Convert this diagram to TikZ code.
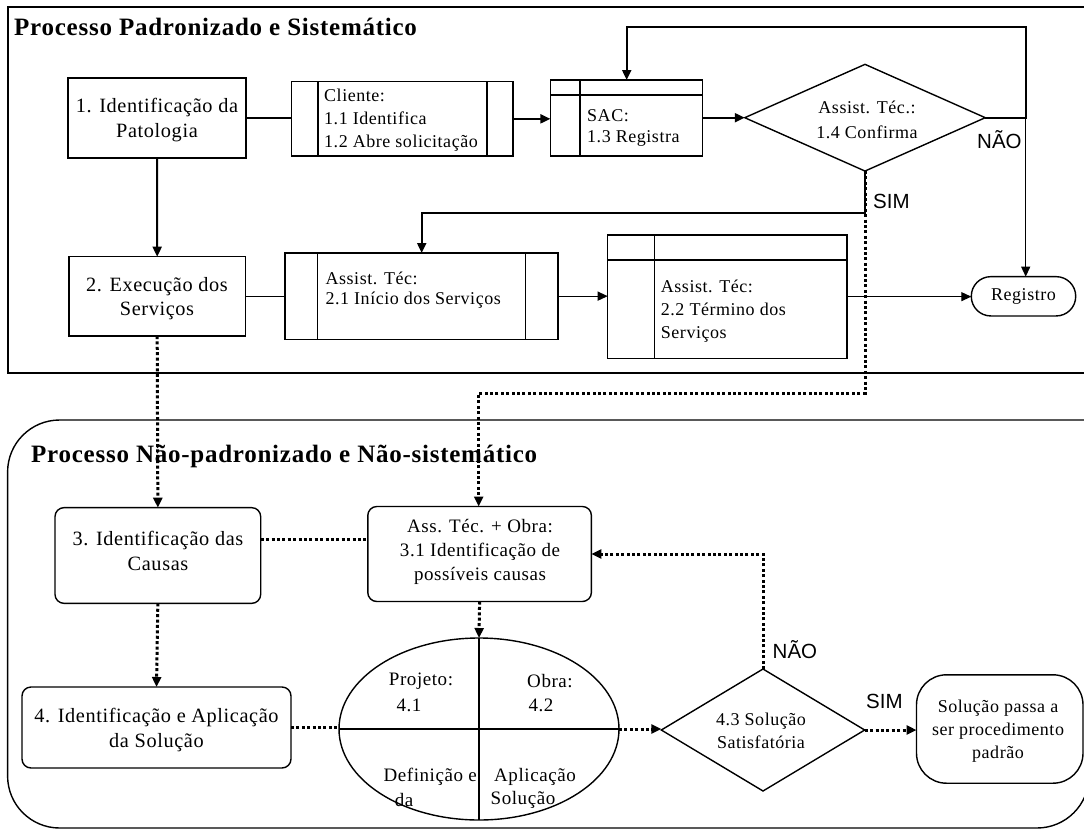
\documentclass[tikz,border=0pt]{standalone}
\usepackage{fontspec}
\setmainfont{Liberation Serif}[LetterSpace=3]
\newfontfamily\labfont{Liberation Sans}
\usetikzlibrary{shapes.geometric,arrows.meta,calc}
\begin{document}
\begin{tikzpicture}[x=1pt,y=-1pt,
 box/.style={draw, line width=1.4pt, inner sep=0pt, outer sep=0pt},
 rbox/.style={box, rounded corners=9pt},
 tb/.style={font=\fontsize{20.3}{24.5}\selectfont, align=center, inner sep=0pt},
 ts/.style={font=\fontsize{18}{23}\selectfont, inner sep=0pt},
 tm/.style={font=\fontsize{19}{24}\selectfont, inner sep=0pt},
 lab/.style={font=\labfont\fontsize{20.5}{24}\selectfont, inner sep=0pt, anchor=base west},
 ttl/.style={font=\bfseries\fontsize{25}{28}\selectfont, inner sep=0pt, anchor=base west},
 conn/.style={line width=1.3pt},
 cth/.style={line width=2pt},
 arr/.style={-{Triangle[length=10pt,width=9pt]}},
 dots/.style={line width=3pt, dash pattern=on 3pt off 2.4pt},
]
\fill[white] (0,0) rectangle (1084,830);
\useasboundingbox (0,0) rectangle (1084,830);
% containers
\draw[line width=1.4pt] (1095,7) -- (8,7) -- (8,373) -- (1095,373);
\draw[line width=1.4pt, rounded corners=52pt] (1095,420) -- (1089,420) -- (1089,828) -- (7.6,828) -- (7.6,420) -- (1095,420);
\node[ttl] (t1) at (14,35) {Processo Padronizado e Sistemático};
\node[ttl] (t2) at (31,462) {Processo Não-padronizado e Não-sistemático};
% top row
\node[box, minimum width=178pt, minimum height=80pt] (b1) at (157,118) {};
\node[tb] (tb1) at (157,120) {1. Identificação da\\Patologia};
\node[box, minimum width=221.3pt, minimum height=74.3pt] (cl) at (402.35,118.85) {};
\draw[conn] ($(cl.north west)+(26.3,0)$) -- ($(cl.south west)+(26.3,0)$);
\draw[conn] ($(cl.north east)+(-26,0)$) -- ($(cl.south east)+(-26,0)$);
\node[ts, anchor=west, align=left] (tcl) at (324,120) {Cliente:\\1.1 Identifica\\1.2 Abre solicitação};
\node[box, minimum width=152pt, minimum height=76pt] (sac) at (626.4,118) {};
\draw[conn] ($(sac.north west)+(0,15)$) -- ($(sac.north east)+(0,15)$);
\draw[conn] ($(sac.north west)+(29.6,0)$) -- ($(sac.south west)+(29.6,0)$);
\node[ts, anchor=west, align=left] (tsac) at (587,128) {SAC:\\[-1.5pt]1.3 Registra};
\node[box, diamond, minimum width=240.5pt, minimum height=106.7pt] (d1) at (865,117.7) {};
\node[ts, align=center] (td1) at (867,119.5) {Assist. Téc.:\\[2pt]1.4 Confirma};
\node[box, rounded corners=19.5pt, minimum width=104.4pt, minimum height=39.3pt, font=\fontsize{18}{20}\selectfont] (reg) at (1023.5,296.3) {Registro};
% second row
\node[box, minimum width=176.6pt, minimum height=79.3pt] (b2) at (157.2,296.35) {};
\node[tb] (tb2) at (157,298.5) {2. Execução dos\\Serviços};
\node[box, minimum width=273.2pt, minimum height=86.3pt] (s21) at (421.4,296.15) {};
\draw[conn] ($(s21.north west)+(32.7,0)$) -- ($(s21.south west)+(32.7,0)$);
\draw[conn] ($(s21.north east)+(-32.2,0)$) -- ($(s21.south east)+(-32.2,0)$);
\node[ts, anchor=west, align=left] (ts21) at (325.4,290) {Assist. Téc:\\[-3pt]2.1 Início dos Serviços};
\node[box, minimum width=239.3pt, minimum height=123.3pt] (s22) at (727.35,296.65) {};
\draw[conn] ($(s22.north west)+(0,25)$) -- ($(s22.north east)+(0,25)$);
\draw[conn] ($(s22.north west)+(46.8,0)$) -- ($(s22.south west)+(46.8,0)$);
\node[ts, anchor=west, align=left] (ts22) at (660.7,311) {Assist. Téc:\\2.2 Término dos\\Serviços};
% bottom part
\node[rbox, minimum width=205.7pt, minimum height=95.7pt] (b3) at (157.85,555.5) {};
\node[tb] (tb3) at (158,551) {3. Identificação das\\Causas};
\node[rbox, minimum width=223.6pt, minimum height=95pt] (s31) at (479.6,554) {};
\node[tm, align=center] (ts31) at (480,552) {Ass. Téc. + Obra:\\3.1 Identificação de\\possíveis causas};
\node[rbox, minimum width=269pt, minimum height=81pt] (b4) at (156.5,727.5) {};
\node[tb] (tb4) at (156.5,730) {4. Identificação e Aplicação\\da Solução};
\node[box, ellipse, minimum width=280pt, minimum height=182pt] (ell) at (479,729) {};
\draw[conn] (ell.north) -- (ell.south);
\draw[conn] (ell.west) -- (ell.east);
\node[tm] (e1) at (421,681) {Projeto:};
\node[tm] (e2) at (409,705) {4.1};
\node[tm] (e3) at (550,681) {Obra:};
\node[tm] (e4) at (541,705) {4.2};
\node[tm, anchor=east] (e5) at (477,777) {Definição e};
\node[tm] (e6) at (404,800) {da};
\node[tm] (e7) at (535,777) {Aplicação};
\node[tm] (e8) at (523,800) {Solução};
\node[box, diamond, minimum width=203.4pt, minimum height=122pt] (d2) at (763,730) {};
\node[ts, align=center] (td2) at (761,731) {4.3 Solução\\Satisfatória};
\node[box, rounded corners=30pt, minimum width=166.5pt, minimum height=108.4pt] (sol) at (999.75,729) {};
\node[ts, align=center] (tsol) at (998,731) {Solução passa a\\ser procedimento\\padrão};
% labels
\node[lab] (n1) at (977,148) {NÃO};
\node[lab] (y1) at (873,208) {SIM};
\node[lab] (n2) at (772.5,658) {NÃO};
\node[lab] (y2) at (866,708) {SIM};
% coordinates
\coordinate (lr) at (1025.7,117.7);
\coordinate (lt) at (626.7,27.3);
\coordinate (sm) at (865,212.7);
\coordinate (sa) at (421.7,212.7);
\coordinate (dA) at (865,393);
\coordinate (dB) at (478.7,393);
% connectors top
\draw[conn] (b1.east) -- (b1.east -| cl.west);
\draw[cth,arr] (cl.east) -- (cl.east -| sac.west);
\draw[cth,arr] (d1.west -| sac.east) -- (d1.west);
\draw[cth,arr] (d1.east) -- (lr) -- (lr |- lt) -- (lt) -- (lt |- sac.north);
\draw[conn,arr] (lr) -- (lr |- reg.north);
\draw[cth,arr] (b1.south) -- (b2.north);
\draw[dots,arr] (d1.south) -- (dA) -- (dB) -- (dB |- s31.north);
\draw[cth,arr] (d1.south) -- (sm) -- (sa) -- (sa |- s21.north);
\draw[conn] (b2.east) -- (b2.east -| s21.west);
\draw[conn,arr] (s21.east) -- (s21.east -| s22.west);
\draw[conn,arr] (s22.east) -- (s22.east -| reg.west);
\draw[dots,arr] (b2.south) -- (b3.north);
% connectors bottom
\draw[dots] ([yshift=16pt]b3.east) -- ([yshift=16pt]b3.east -| s31.west);
\draw[dots,arr] (b3.south) -- (b4.north);
\draw[dots,arr] (s31.south) -- (ell.north);
\draw[dots] (b4.east) -- (b4.east -| ell.west);
\draw[dots,arr] (ell.east) -- (ell.east -| d2.west);
\draw[dots,arr] (d2.east) -- (d2.east -| sol.west);
\draw[dots,arr] (d2.north) |- (s31.east);
\end{tikzpicture}
\end{document}
